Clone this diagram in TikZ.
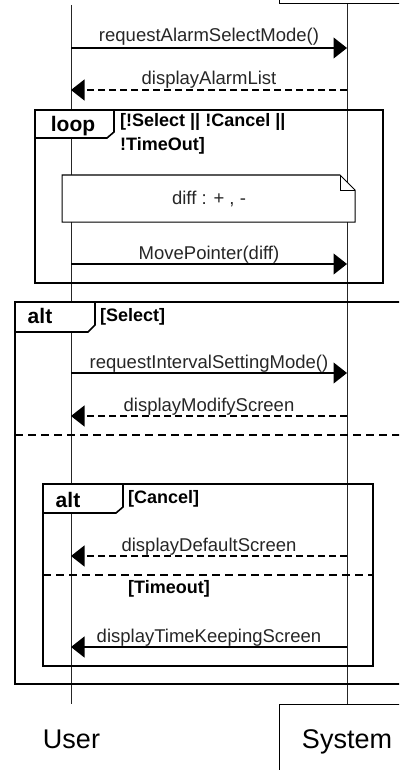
\documentclass[tikz,border=0pt]{standalone}
\usepackage{fontspec}
\setmainfont{Liberation Sans}
\usetikzlibrary{arrows.meta}
\begin{document}
\begin{tikzpicture}[x=1pt,y=-1pt,
  life/.style={line width=1pt, draw=black!85},
  msg/.style={line width=1.1pt, -{Triangle[length=13.5pt,width=21pt]}},
  reply/.style={msg, dash pattern=on 7pt off 4pt},
  lbl/.style={font=\fontsize{18.5}{22}\selectfont, anchor=base, text=black!85, inner sep=0pt},
  frame/.style={line width=2pt},
  tabshape/.style={line width=1.6pt, fill=white},
  tabtxt/.style={font=\fontsize{21}{24}\selectfont\bfseries, inner sep=0pt, anchor=base},
  guard/.style={font=\fontsize{18}{23}\selectfont\bfseries, anchor=base west, align=left, inner sep=0pt},
  sepline/.style={line width=2pt, dash pattern=on 8pt off 5pt},
  headtxt/.style={font=\fontsize{27}{30}\selectfont, inner sep=0pt, anchor=base},
  notebox/.style={line width=1pt, fill=white}
]
\useasboundingbox (0,0) rectangle (399,770);
\clip (0,0) rectangle (399,770);

% lifeline ends
\coordinate (utop) at (71,5);
\coordinate (ubot) at (71,704);
\coordinate (stop) at (347,4);
\coordinate (sbot) at (347,704);

% participant boxes and names
\draw[line width=1pt] (279,-20) rectangle (430,4);
\draw[line width=1pt, fill=white] (279,704) rectangle (430,790);
\node[headtxt] (user) at (71.5,748) {User};
\node[headtxt] (system) at (347,748) {System};

% lifelines
\draw[life] (utop) -- (ubot);
\draw[life] (stop) -- (sbot);

% message anchor points
\foreach \n/\y in {1/48,2/90,3/264,4/373,5/416,6/556,7/647}{
  \coordinate (u\n) at (71,\y);
  \coordinate (s\n) at (347,\y);
}

% messages before loop
\draw[msg] (u1) -- (s1) node[lbl, midway, yshift=6pt] {requestAlarmSelectMode()};
\draw[reply] (s2) -- (u2) node[lbl, midway, yshift=5.5pt] {displayAlarmList};

% loop frame
\draw[frame] (35,110) rectangle (383,283);
\draw[tabshape] (35,110) -- (114,110) -- (114,132) -- (107,138) -- (35,138) -- cycle;
\node[tabtxt] (looplbl) at (73,132) {loop};
\node[guard] (loopguard1) at (120,127) {[!Select || !Cancel ||};
\node[guard] (loopguard2) at (120,150) {!TimeOut]};

% note
\draw[notebox] (62,175) -- (340,175) -- (355,190) -- (355,222) -- (62,222) -- cycle;
\draw[line width=1pt] (340,175) -- (340,190) -- (355,190);
\node[lbl] (note) at (209,204) {diff : + , -};

\draw[msg] (u3) -- (s3) node[lbl, midway, yshift=5pt] {MovePointer(diff)};

% outer alt frame
\draw[frame] (15,302) rectangle (430,684);
\draw[tabshape] (15,302) -- (95,302) -- (95,325) -- (88,332) -- (15,332) -- cycle;
\node[tabtxt] (altA) at (40,323) {alt};
\node[guard] (gsel) at (100,321) {[Select]};

\draw[msg] (u4) -- (s4) node[lbl, midway, yshift=4.5pt] {requestIntervalSettingMode()};
\draw[reply] (s5) -- (u5) node[lbl, midway, yshift=5pt] {displayModifyScreen};

\coordinate (sepAl) at (15,435);
\coordinate (sepAr) at (430,435);
\draw[sepline] (sepAl) -- (sepAr);

% inner alt frame
\draw[frame] (43,484) rectangle (373,666);
\draw[tabshape] (43,484) -- (123,484) -- (123,507) -- (116,513) -- (43,513) -- cycle;
\node[tabtxt] (altB) at (68,507) {alt};
\node[guard] (gcan) at (128,503) {[Cancel]};

\draw[reply] (s6) -- (u6) node[lbl, midway, yshift=5pt] {displayDefaultScreen};

\coordinate (sepBl) at (43,575);
\coordinate (sepBr) at (373,575);
\draw[sepline] (sepBl) -- (sepBr);
\node[guard] (gtime) at (128,593) {[Timeout]};

\draw[msg] (s7) -- (u7) node[lbl, midway, yshift=5pt] {displayTimeKeepingScreen};
\end{tikzpicture}
\end{document}
